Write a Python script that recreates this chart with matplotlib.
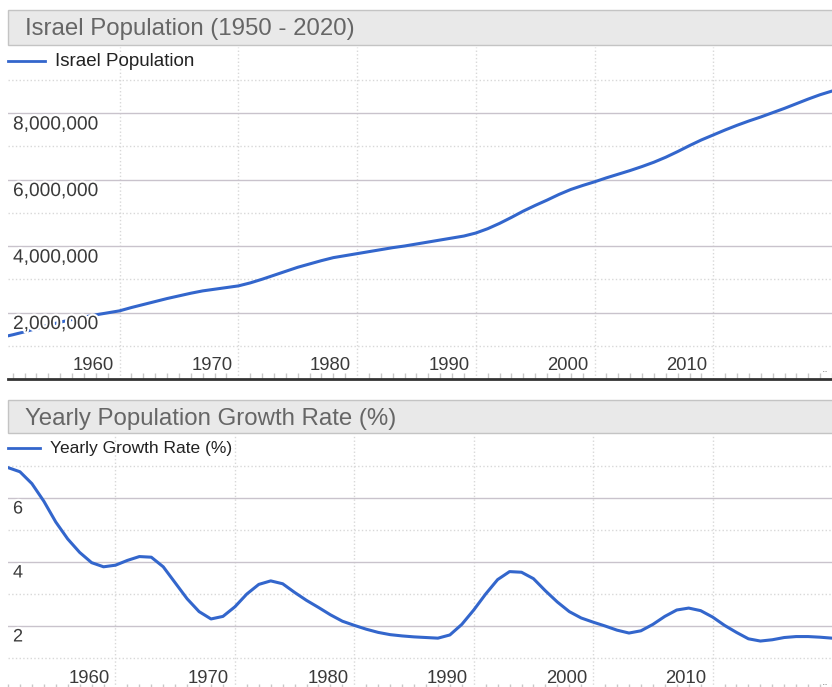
import numpy as np
import matplotlib
matplotlib.use("Agg")
import matplotlib.pyplot as plt
from matplotlib.patches import Rectangle
from matplotlib.lines import Line2D
import matplotlib.patheffects as pe

plt.rcParams['font.family'] = ['Liberation Sans', 'DejaVu Sans']

# population, millions, 1950-2020
pop_years = np.arange(1950, 2021)
population_m = [
    1.25, 1.33, 1.42, 1.52, 1.62, 1.71, 1.79, 1.86, 1.93, 1.99,
    2.05, 2.15, 2.24, 2.33, 2.42, 2.50, 2.58, 2.65, 2.70, 2.75,
    2.80, 2.89, 3.00, 3.12, 3.24, 3.36, 3.46, 3.56, 3.65, 3.71,
    3.77, 3.83, 3.89, 3.95, 4.00, 4.06, 4.12, 4.18, 4.24, 4.30,
    4.39, 4.52, 4.68, 4.86, 5.05, 5.22, 5.38, 5.55, 5.70, 5.82,
    5.93, 6.05, 6.16, 6.27, 6.39, 6.52, 6.67, 6.84, 7.02, 7.19,
    7.34, 7.49, 7.63, 7.76, 7.88, 8.01, 8.14, 8.28, 8.42, 8.55,
    8.66,
]

# yearly growth rate (%), 1951-2020
growth_years = np.arange(1951, 2021)
growth_rate = [
    6.95, 6.82, 6.45, 5.90, 5.25, 4.72, 4.30, 3.98, 3.85,
    3.90, 4.05, 4.17, 4.15, 3.85, 3.35, 2.85, 2.45, 2.22, 2.30,
    2.60, 3.00, 3.30, 3.41, 3.32, 3.05, 2.80, 2.58, 2.35, 2.15,
    2.02, 1.90, 1.80, 1.73, 1.69, 1.66, 1.64, 1.62, 1.72, 2.05,
    2.50, 3.00, 3.45, 3.70, 3.68, 3.48, 3.10, 2.75, 2.45, 2.25,
    2.12, 2.00, 1.87, 1.78, 1.85, 2.05, 2.30, 2.50, 2.56, 2.48,
    2.28, 2.02, 1.80, 1.60, 1.53, 1.57, 1.64, 1.67, 1.67, 1.65,
    1.62,
]

decades = [1960, 1970, 1980, 1990, 2000, 2010]
pop_ticks = [2_000_000, 4_000_000, 6_000_000, 8_000_000]
growth_ticks = [2, 4, 6]

W, H = 832, 687
BLUE = '#3366cc'
fig = plt.figure(figsize=(W / 100, H / 100), dpi=100)


def px_box(x0, y0, x1, y1):
    # pixel box (top-left origin) -> figure fraction rect
    return [x0 / W, 1 - y1 / H, (x1 - x0) / W, (y1 - y0) / H]


def title_bar(y0, y1, text, size):
    fig.add_artist(Rectangle((8 / W, 1 - y1 / H), (W - 7) / W, (y1 - y0) / H,
                             transform=fig.transFigure, facecolor='#e9e9e9',
                             edgecolor='#c4c4c4', linewidth=1))
    fig.text(25 / W, 1 - ((y0 + y1) / 2 + 2) / H, text, color='#666666', fontsize=size,
             va='center', ha='left')


def legend(y, x_end, label, size):
    fig.add_artist(Line2D([8 / W, x_end / W], [1 - y / H, 1 - y / H],
                          transform=fig.transFigure, color=BLUE, linewidth=2))
    fig.text((x_end + 10) / W, 1 - y / H, label, color='#222222', fontsize=size,
             va='center', ha='left')


def style_axes(ax, major_y, minor_y, xlim, ylim):
    ax.set_xlim(*xlim)
    ax.set_ylim(*ylim)
    for s in ax.spines.values():
        s.set_visible(False)
    ax.set_yticks(major_y)
    ax.set_yticks(minor_y, minor=True)
    ax.set_xticks(decades)
    ax.set_xticks(np.arange(1951, 2021), minor=True)
    ax.tick_params(which='both', labelbottom=False, labelleft=False)
    ax.tick_params(axis='y', which='both', length=0)
    ax.tick_params(axis='x', which='major', length=0)
    ax.tick_params(axis='x', which='minor', direction='in', length=4,
                   color='#c8c8c8', width=1)
    ax.grid(True, axis='y', which='major', color='#c9c3cc', linestyle='-', linewidth=1)
    ax.grid(True, axis='y', which='minor', color='#d8d8d8', linestyle=':', linewidth=1)
    ax.grid(True, axis='x', which='major', color='#d8d8d8', linestyle=':', linewidth=1)
    ax.set_axisbelow(True)


halo = [pe.withStroke(linewidth=3, foreground='white')]

# ---- top chart ----
title_bar(10, 45, 'Israel Population (1950 - 2020)', 17.3)
legend(61, 45, 'Israel Population', 13.5)

ax1 = fig.add_axes(px_box(8, 46.5, 832, 379))
style_axes(ax1, pop_ticks, [1e6, 3e6, 5e6, 7e6, 9e6], (1950.6, 2019.7), (0, 10_000_000))
ax1.spines['bottom'].set_visible(True)
ax1.spines['bottom'].set_color('#333333')
ax1.spines['bottom'].set_linewidth(2)
ax1.plot(pop_years, np.array(population_m) * 1e6, color=BLUE, linewidth=2.2, zorder=2)
for v in pop_ticks:
    ax1.annotate(f'{v:,}', xy=(0, v), xycoords=('axes fraction', 'data'),
                 xytext=(5, -12), textcoords='offset pixels', ha='left', va='center',
                 fontsize=13.8, color='#3a3a3a', path_effects=halo, zorder=5)
for d in decades:
    ax1.annotate(str(d), xy=(d, 0), xycoords=('data', 'axes fraction'),
                 xytext=(-6, 13), textcoords='offset pixels', ha='right', va='center',
                 fontsize=13.3, color='#3a3a3a')
ax1.annotate('..', xy=(1, 0), xycoords='axes fraction', xytext=(-3, 10),
             textcoords='offset pixels', ha='right', va='center', fontsize=9, color='#888888')

# ---- bottom chart ----
title_bar(400, 433, 'Yearly Population Growth Rate (%)', 17.3)
legend(448, 40, 'Yearly Growth Rate (%)', 12.5)

ax2 = fig.add_axes(px_box(8, 434, 832, 690))
style_axes(ax2, growth_ticks, [1, 3, 5, 7], (1951.45, 2019.8), (0, 8))
ax2.plot(growth_years, growth_rate, color=BLUE, linewidth=2.2, zorder=2)
for v in growth_ticks:
    ax2.annotate(str(v), xy=(0, v), xycoords=('axes fraction', 'data'),
                 xytext=(5, -11), textcoords='offset pixels', ha='left', va='center',
                 fontsize=13, color='#3a3a3a', path_effects=halo, zorder=5)
for d in decades:
    ax2.annotate(str(d), xy=(d, 0), xycoords=('data', 'axes fraction'),
                 xytext=(-6, 11), textcoords='offset pixels', ha='right', va='center',
                 fontsize=13.3, color='#3a3a3a')
ax2.annotate('..', xy=(1, 0), xycoords='axes fraction', xytext=(-3, 8),
             textcoords='offset pixels', ha='right', va='center', fontsize=9, color='#888888')

fig.savefig('out.png', dpi=100)
